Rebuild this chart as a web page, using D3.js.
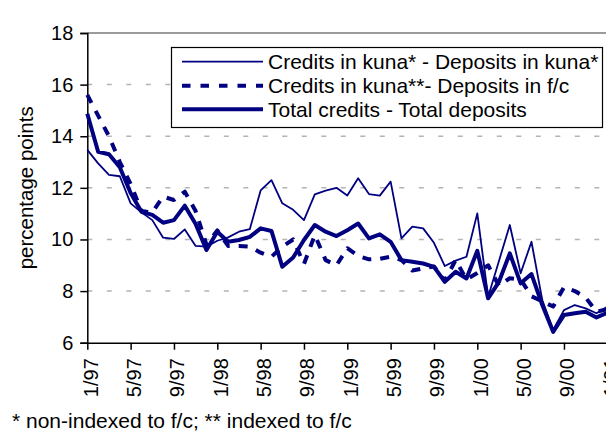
<!DOCTYPE html>
<html>
<head>
<meta charset="utf-8">
<script src="https://cdn.jsdelivr.net/npm/d3@7/dist/d3.min.js"></script>
<style>
  html, body { margin: 0; padding: 0; background: #fff; }
  svg { display: block; font-family: "Liberation Sans", Arial, sans-serif; }
</style>
</head>
<body>
<svg id="chart" width="606" height="432"></svg>
<script>
// Monthly categories, January 1997 to January 2001
const months = [
  "1/97","2/97","3/97","4/97","5/97","6/97","7/97","8/97","9/97","10/97","11/97","12/97",
  "1/98","2/98","3/98","4/98","5/98","6/98","7/98","8/98","9/98","10/98","11/98","12/98",
  "1/99","2/99","3/99","4/99","5/99","6/99","7/99","8/99","9/99","10/99","11/99","12/99",
  "1/00","2/00","3/00","4/00","5/00","6/00","7/00","8/00","9/00","10/00","11/00","12/00",
  "1/01"
];
// Labelled months on the category axis
const tickLabels = ["1/97","5/97","9/97","1/98","5/98","9/98","1/99","5/99","9/99","1/00","5/00","9/00","1/01"];
const yTicks = [6, 8, 10, 12, 14, 16, 18];

// Interest rate spreads, percentage points
const kunaKuna = [
  13.47, 12.95, 12.5, 12.45, 11.4, 11.05, 10.75, 10.07, 10.02, 10.39, 9.75, 9.72,
  9.95, 10.08, 10.3, 10.4, 11.9, 12.3, 11.4, 11.15, 10.75, 11.75, 11.89, 12.0,
  11.7, 12.37, 11.76, 11.7, 12.24, 10.04, 10.5, 10.43, 9.87, 8.97, 9.18, 9.33,
  11.01, 7.78, 9.17, 10.56, 8.69, 9.91, 7.65, 6.49, 7.26, 7.46, 7.33, 7.14,
  7.39
];
const kunaFc = [
  15.6, 14.8, 14.0, 13.0, 12.15, 11.1, 11.05, 11.66, 11.53, 11.85, 11.1, 9.8,
  10.35, 9.75, 9.75, 9.72, 9.49, 9.33, 9.72, 10.0, 9.05, 10.17, 9.2, 9.0,
  9.66, 9.36, 9.23, 9.25, 9.33, 9.2, 8.8, 8.88, 8.95, 8.4, 9.2, 8.45,
  8.7, 9.0, 8.2, 8.5, 8.45, 7.8, 7.6, 7.4, 8.15, 8.0, 7.75, 7.2,
  7.3
];
const totalSpread = [
  14.87, 13.4, 13.3, 12.8, 11.8, 11.07, 10.95, 10.65, 10.75, 11.31, 10.6, 9.59,
  10.3, 9.91, 9.98, 10.1, 10.43, 10.33, 8.94, 9.3, 9.98, 10.56, 10.3, 10.13,
  10.36, 10.62, 10.04, 10.2, 9.91, 9.2, 9.14, 9.07, 8.94, 8.36, 8.75, 8.49,
  9.56, 7.72, 8.36, 9.46, 8.3, 8.66, 7.46, 6.42, 7.07, 7.14, 7.2, 6.98,
  7.16
];

const seriesNames = [
  "Credits in kuna* - Deposits in kuna*",
  "Credits in kuna**- Deposits in f/c",
  "Total credits - Total deposits"
];
const footnote = "* non-indexed to f/c; ** indexed to f/c";
const yTitle = "percentage points";

const navy = "#000080";
const styles = [
  { width: 1.8, dash: null },
  { width: 4, dash: "9,9" },
  { width: 4, dash: null }
];
const seriesData = [kunaKuna, kunaFc, totalSpread];

const svg = d3.select("#chart");
const plotLeft = 87.3, plotRight = 607.3, plotTop = 33, plotBottom = 342.7;

const x = d3.scalePoint().domain(months).range([plotLeft, plotRight]);
const y = d3.scaleLinear().domain([6, 18]).range([plotBottom, plotTop]);

// Horizontal gridlines
svg.append("g")
  .selectAll("line")
  .data(yTicks.filter(v => v > 6 && v < 18))
  .join("line")
  .attr("x1", plotLeft).attr("x2", 606)
  .attr("y1", d => y(d)).attr("y2", d => y(d))
  .attr("stroke", "#b4b4b4")
  .attr("stroke-width", 1.5)
  .attr("stroke-dasharray", "5,14.5");

// Top edge of the plot area
svg.append("line")
  .attr("x1", plotLeft).attr("x2", 606)
  .attr("y1", y(18)).attr("y2", y(18))
  .attr("stroke", "#7a7a7a").attr("stroke-width", 1.5);

// Value axis
const yAxis = svg.append("g")
  .attr("transform", `translate(${plotLeft},0)`)
  .call(d3.axisLeft(y).tickValues(yTicks).tickSize(7).tickPadding(7).tickFormat(d3.format("d")));
yAxis.select(".domain").attr("stroke", "#000").attr("stroke-width", 1.5);
yAxis.selectAll(".tick line").attr("stroke", "#000").attr("stroke-width", 1.5);
yAxis.selectAll(".tick text")
  .attr("font-size", 20).attr("font-family", "Liberation Sans, Arial, sans-serif")
  .attr("fill", "#000");

// Category axis
const xAxis = svg.append("g")
  .attr("transform", `translate(0,${plotBottom})`)
  .call(d3.axisBottom(x).tickValues(tickLabels).tickSize(7).tickSizeOuter(0));
xAxis.select(".domain").attr("stroke", "#000").attr("stroke-width", 1.5);
xAxis.selectAll(".tick line").attr("stroke", "#000").attr("stroke-width", 1.5);
xAxis.selectAll(".tick text")
  .attr("font-size", 20).attr("font-family", "Liberation Sans, Arial, sans-serif")
  .attr("fill", "#000")
  .attr("text-anchor", "end")
  .attr("dy", null)
  .attr("y", 0)
  .attr("transform", "translate(10,15.5) rotate(-90)");

// Axis title
svg.append("text")
  .attr("transform", `translate(33,${(plotTop + plotBottom) / 2}) rotate(-90)`)
  .attr("text-anchor", "middle")
  .attr("font-size", 20.5)
  .text(yTitle);

// Series lines
const line = d3.line()
  .x((d, i) => x(months[i]))
  .y(d => y(d));

seriesData.forEach((vals, k) => {
  svg.append("path")
    .datum(vals)
    .attr("d", line)
    .attr("fill", "none")
    .attr("stroke", navy)
    .attr("stroke-width", styles[k].width)
    .attr("stroke-linejoin", "round")
    .attr("stroke-dasharray", styles[k].dash);
});

// Legend
const legend = svg.append("g");
legend.append("rect")
  .attr("x", 171.5).attr("y", 47.5)
  .attr("width", 431).attr("height", 80)
  .attr("fill", "#fff").attr("stroke", "#000").attr("stroke-width", 1.2);
const rowY = [61.7, 85.7, 109.3];
seriesNames.forEach((name, k) => {
  legend.append("line")
    .attr("x1", 182).attr("x2", 263)
    .attr("y1", rowY[k]).attr("y2", rowY[k])
    .attr("stroke", navy)
    .attr("stroke-width", styles[k].width)
    .attr("stroke-dasharray", styles[k].dash ? "8.5,10" : null);
  legend.append("text")
    .attr("x", 268).attr("y", rowY[k] + 7.5)
    .attr("font-size", 21)
    .text(name);
});

// Footnote
svg.append("text")
  .attr("x", 12).attr("y", 428)
  .attr("font-size", 21)
  .text(footnote);
</script>
</body>
</html>
